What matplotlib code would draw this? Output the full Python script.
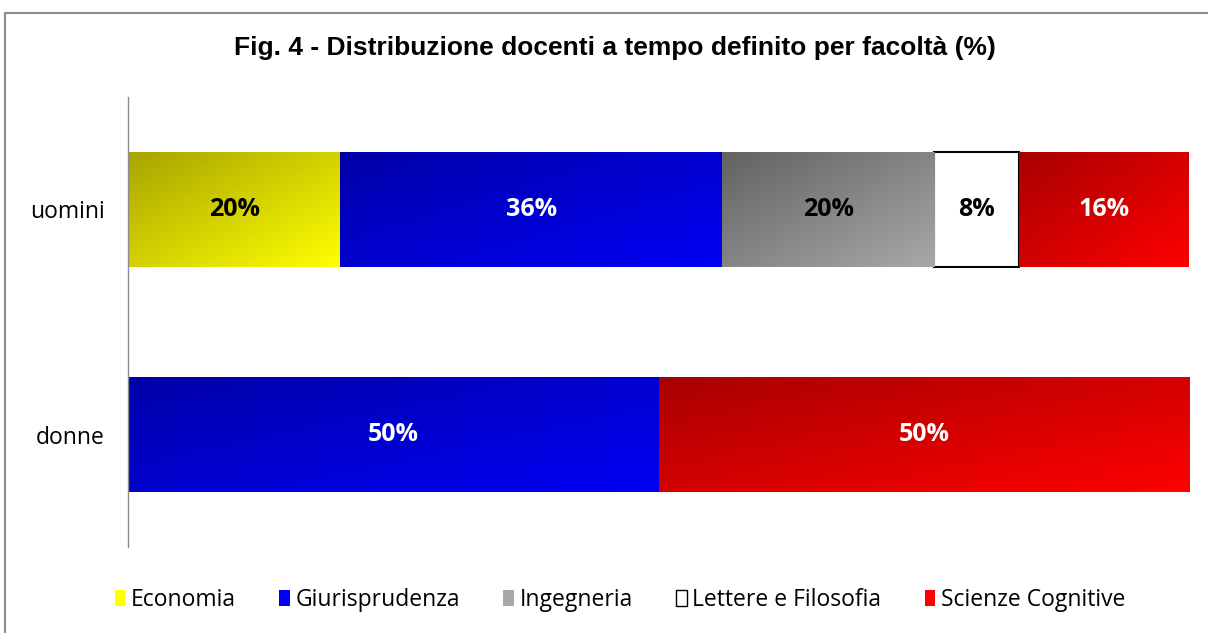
import numpy as np
import matplotlib
matplotlib.use("Agg")
import matplotlib.pyplot as plt
from matplotlib.patches import Rectangle
from matplotlib.colors import LinearSegmentedColormap
from matplotlib.legend_handler import HandlerPatch

categories = ["donne", "uomini"]
faculties = ["Economia", "Giurisprudenza", "Ingegneria", "Lettere e Filosofia", "Scienze Cognitive"]
values = {
    "Economia":            [0, 20],
    "Giurisprudenza":      [50, 36],
    "Ingegneria":          [0, 20],
    "Lettere e Filosofia": [0, 8],
    "Scienze Cognitive":   [50, 16],
}
title = "Fig. 4 - Distribuzione docenti a tempo definito per facoltà (%)"

# gradient colours (dark top-left -> bright bottom-right)
grad = {
    "Economia":            ("#a8a300", "#ffff00"),
    "Giurisprudenza":      ("#0000a8", "#0000f5"),
    "Ingegneria":          ("#626262", "#a8a8a8"),
    "Lettere e Filosofia": ("#ffffff", "#ffffff"),
    "Scienze Cognitive":   ("#a80000", "#ff0000"),
}
label_color = {
    "Economia": "black", "Giurisprudenza": "white", "Ingegneria": "black",
    "Lettere e Filosofia": "black", "Scienze Cognitive": "white",
}

label_font = ["Open Sans", "DejaVu Sans"]

fig = plt.figure(figsize=(12.08, 6.33), dpi=100)
# outer frame
fig.add_artist(Rectangle((5 / 1208, -0.1), 1.2, 1 - 13 / 633 + 0.1,
                         transform=fig.transFigure, fill=False,
                         edgecolor="#8c8c8c", linewidth=1.5))

ax = fig.add_axes([128 / 1208, 1 - 547 / 633, (1189 - 128) / 1208, 450 / 633])
bar_h = 0.515
y = np.arange(len(categories))

# gradient texture
n = 200
uu, vv = np.meshgrid(np.linspace(0, 1, n), np.linspace(0, 1, n))
tex = (uu + vv) / 2.0  # row 0 = top (origin upper)

left = np.zeros(len(categories))
for fac in faculties:
    vals = np.array(values[fac], dtype=float)
    is_white = fac == "Lettere e Filosofia"
    bars = ax.barh(y, vals, left=left, height=bar_h,
                   color=grad[fac][1] if not is_white else "white",
                   edgecolor="black" if is_white else "none",
                   linewidth=1.5 if is_white else 0, label=fac, zorder=2)
    cmap = LinearSegmentedColormap.from_list(fac, list(grad[fac]))
    for b, v in zip(bars, vals):
        if v <= 0:
            continue
        x0, y0 = b.get_x(), b.get_y()
        w, h = b.get_width(), b.get_height()
        if not is_white:
            im = ax.imshow(tex, cmap=cmap, extent=[x0, x0 + w, y0, y0 + h],
                           origin="upper", aspect="auto", zorder=2.5,
                           interpolation="bilinear")
            im.set_clip_path(b)
        ax.text(x0 + w / 2, y0 + h / 2, f"{v:.0f}%", ha="center", va="center",
                fontsize=18, fontweight="bold", color=label_color[fac],
                family=label_font, zorder=4)
    left = left + vals

ax.set_xlim(0, 100)
ax.set_ylim(-0.5, 1.5)
ax.set_yticks(y)
ax.set_yticklabels(categories, fontsize=16.5, family=label_font)
ax.tick_params(axis="y", length=0, pad=16.5)
ax.set_xticks([])
for s in ["top", "right", "bottom"]:
    ax.spines[s].set_visible(False)
ax.spines["left"].set_color("#8c8c8c")
ax.spines["left"].set_linewidth(1)

fig.text(615 / 1208, 1 - 48 / 633, title, ha="center", va="center",
         fontsize=19, fontweight="bold", family=["Liberation Sans", "DejaVu Sans"])


class GradHandler(HandlerPatch):
    def create_artists(self, legend, orig_handle, xdescent, ydescent, width, height, fontsize, trans):
        fac = orig_handle.get_label()
        r = Rectangle((-xdescent, -ydescent + height * 0.05), width, height * 0.9,
                      facecolor=grad[fac][1],
                      edgecolor="black" if fac == "Lettere e Filosofia" else "none",
                      linewidth=1, transform=trans)
        return [r]

handles = [Rectangle((0, 0), 1, 1, label=f) for f in faculties]
fig.legend(handles=handles, labels=faculties, loc="center",
           bbox_to_anchor=(620 / 1208, 1 - 600 / 633), ncol=5, frameon=False,
           prop={"family": label_font, "size": 16.5},
           handlelength=0.45, handleheight=0.8, handletextpad=0.25,
           columnspacing=1.9, handler_map={Rectangle: GradHandler()})

fig.savefig("out.png", dpi=100)
